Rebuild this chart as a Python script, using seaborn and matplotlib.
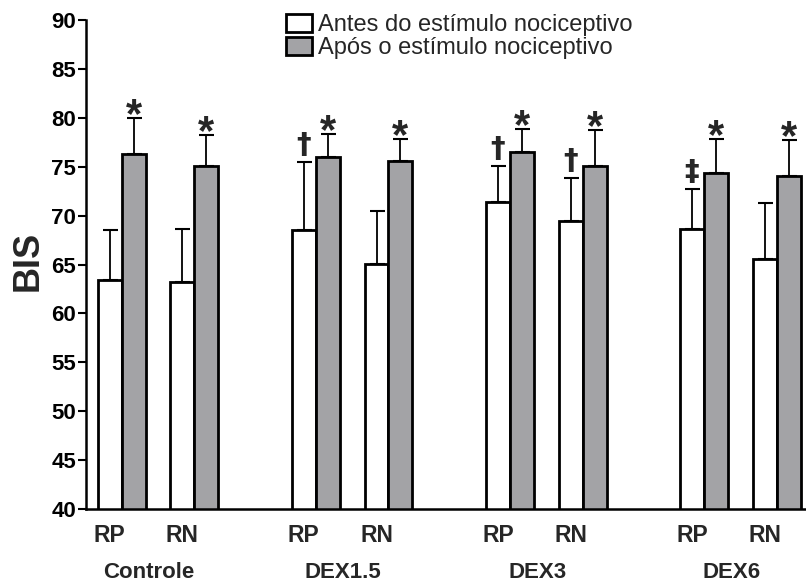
import numpy as np
import pandas as pd
import matplotlib
matplotlib.use("Agg")
import matplotlib.pyplot as plt
import matplotlib.transforms as mtransforms
import seaborn as sns

# ---- data -------------------------------------------------------------
groups = ["Controle", "DEX1.5", "DEX3", "DEX6"]
subgroups = ["RP", "RN"]
phases = ["Antes do estímulo nociceptivo", "Após o estímulo nociceptivo"]

antes_mean = [63.4, 63.2, 68.5, 65.1, 71.4, 69.4, 68.6, 65.6]
antes_sd = [5.1, 5.4, 7.0, 5.4, 3.7, 4.4, 4.1, 5.7]
apos_mean = [76.3, 75.1, 76.0, 75.6, 76.5, 75.1, 74.4, 74.1]
apos_sd = [3.7, 3.1, 2.3, 2.2, 2.4, 3.65, 3.4, 3.6]

antes_marks = ["", "", "†", "", "†", "†", "‡", ""]
apos_marks = ["*", "*", "*", "*", "*", "*", "*", "*"]

yticks = [40, 45, 50, 55, 60, 65, 70, 75, 80, 85, 90]

# ---- style ------------------------------------------------------------
sns.set_style("ticks")
plt.rcParams["font.family"] = ["Liberation Sans", "DejaVu Sans"]

GRAY = "#a3a3a7"
GROUP_STEP = 2.67  # distance between groups, in units of the RP-RN spacing

positions = [gi * GROUP_STEP + si for gi in range(len(groups)) for si in range(len(subgroups))]

df = pd.DataFrame({
    "pos": positions * 2,
    "fase": [phases[0]] * len(positions) + [phases[1]] * len(positions),
    "BIS": antes_mean + apos_mean,
})

fig = plt.figure(figsize=(8.06, 5.82), dpi=100)
ax = fig.add_axes([86 / 806, 1 - 509 / 582, 720 / 806, 489 / 582])

sns.barplot(
    data=df, x="pos", y="BIS", hue="fase", hue_order=phases,
    native_scale=True, width=0.66, palette=["white", GRAY],
    edgecolor="black", linewidth=2.0, errorbar=None, ax=ax,
)

# one-sided (upper) error bars and significance marks
all_means = [antes_mean, apos_mean]
all_sds = [antes_sd, apos_sd]
all_marks = [antes_marks, apos_marks]
bar_containers = list(ax.containers)
centers = []
for k, cont in enumerate(bar_containers):
    xs = np.array([b.get_x() + b.get_width() / 2 for b in cont])
    centers.append(xs)
    m = np.array(all_means[k])
    s = np.array(all_sds[k])
    ax.errorbar(xs, m, yerr=[np.zeros_like(s), s], fmt="none", ecolor="black",
                elinewidth=1.3, capsize=5.4, capthick=1.5, zorder=3)
    for x, top, mark in zip(xs, m + s, all_marks[k]):
        if not mark:
            continue
        if mark == "*":
            ax.annotate(mark, xy=(x, top), xytext=(0, -6.5), textcoords="offset points",
                        ha="center", va="baseline", fontsize=30, fontweight="bold",
                        annotation_clip=False)
        else:
            ax.annotate(mark, xy=(x, top), xytext=(0, 6.5), textcoords="offset points",
                        ha="center", va="baseline", fontsize=21, fontweight="bold",
                        family="DejaVu Sans", annotation_clip=False)

# axes
ax.set_ylim(40, 90)
ax.set_xlim(-0.491, 9.413)
ax.set_yticks(yticks)
ax.set_yticklabels([str(v) for v in yticks], fontsize=16, fontweight="bold")
ax.tick_params(axis="y", length=6, width=1.5, pad=1, colors="black")

white_x = centers[0]
ax.set_xticks(white_x)
ax.set_xticklabels(subgroups * len(groups), fontsize=16.5, fontweight="bold")
ax.tick_params(axis="x", length=0, pad=11)

trans = mtransforms.blended_transform_factory(ax.transData, ax.transAxes)
for gi, g in enumerate(groups):
    xc = white_x[2 * gi: 2 * gi + 2].mean() + 0.04
    ax.text(xc, -0.141, g, transform=trans, ha="center", va="baseline",
            fontsize=16, fontweight="bold")

ax.set_xlabel("")
ax.set_ylabel("BIS", fontsize=26, fontweight="bold")
ax.yaxis.set_label_coords(-0.056, 0.507)

for side in ["top", "right"]:
    ax.spines[side].set_visible(False)
for side in ["left", "bottom"]:
    ax.spines[side].set_linewidth(1.8)
    ax.spines[side].set_color("black")

handles, labels = ax.get_legend_handles_labels()
ax.legend(handles, labels, loc="upper left", bbox_to_anchor=(286 / 806, 1 - 14 / 582),
          bbox_transform=fig.transFigure, frameon=False, fontsize=17,
          handlelength=1.1, handleheight=0.78, handletextpad=0.25,
          labelspacing=0.05, borderpad=0, borderaxespad=0)

fig.savefig("out.png", dpi=100)
